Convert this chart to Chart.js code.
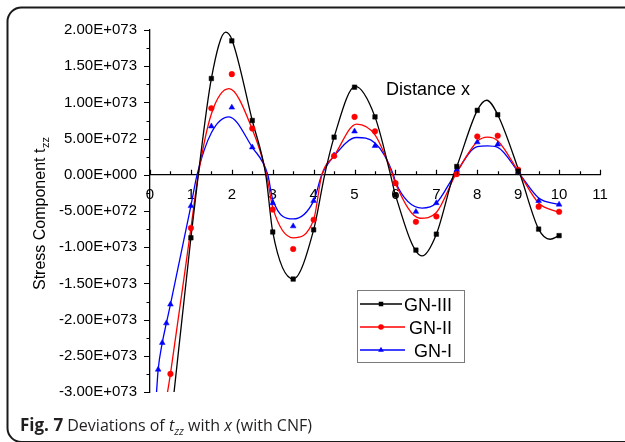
<!DOCTYPE html>
<html><head><meta charset="utf-8">
<script src="https://cdn.jsdelivr.net/npm/chart.js@4.4.0/dist/chart.umd.min.js"></script>
<style>html,body{margin:0;padding:0;background:#fff;}canvas{display:block;}</style>
</head><body>
<canvas id="c" width="625" height="442"></canvas>
<script>
// ---- data ----
const seriesNames = ['GN-III', 'GN-II', 'GN-I'];

// measured points (markers)
const gn3X = [1, 1.5, 2, 2.5, 3, 3.5, 4, 4.5, 5, 5.5, 6, 6.5, 7, 7.5, 8, 8.5, 9, 9.5, 10];
const gn3Y = [-0.87e73, 1.33e73, 1.85e73, 0.75e73, -0.79e73, -1.44e73, -0.76e73, 0.52e73, 1.21e73, 0.80e73, -0.28e73, -1.04e73, -0.82e73, 0.115e73, 0.89e73, 0.83e73, 0.05e73, -0.75e73, -0.84e73];

const gn2X = [0.5, 1, 1.5, 2, 2.5, 3, 3.5, 4, 4.5, 5, 5.5, 6, 6.5, 7, 7.5, 8, 8.5, 9, 9.5, 10];
const gn2Y = [-2.75e73, -0.735e73, 0.92e73, 1.39e73, 0.64e73, -0.48e73, -1.025e73, -0.62e73, 0.26e73, 0.80e73, 0.60e73, -0.115e73, -0.65e73, -0.575e73, 0.01e73, 0.53e73, 0.54e73, 0.07e73, -0.44e73, -0.51e73];

const gn1X = [0.2, 0.3, 0.4, 0.5, 1, 1.5, 2, 2.5, 3, 3.5, 4, 4.5, 5, 5.5, 6, 6.5, 7, 7.5, 8, 8.5, 9, 9.5, 10];
const gn1Y = [-2.69e73, -2.32e73, -2.05e73, -1.79e73, -0.43e73, 0.67e73, 0.93e73, 0.38e73, -0.39e73, -0.71e73, -0.36e73, 0.27e73, 0.60e73, 0.40e73, -0.12e73, -0.51e73, -0.39e73, 0.07e73, 0.45e73, 0.42e73, 0.04e73, -0.36e73, -0.41e73];

// fitted smooth curves
const gn3FitX = [0.55, 1.0, 1.18, 1.5, 1.85, 2.0, 2.5, 2.83, 3.0, 3.5, 4.0, 4.27, 4.5, 5.02, 5.5, 5.88, 6.0, 6.65, 7.0, 7.42, 7.5, 8.0, 8.23, 8.5, 9.05, 9.5, 9.78, 10.0];
const gn3FitY = [-3.2e73, -0.87e73, 0, 1.33e73, 1.97e73, 1.87e73, 0.75e73, 0, -0.79e73, -1.44e73, -0.76e73, 0, 0.52e73, 1.22e73, 0.80e73, 0, -0.28e73, -1.12e73, -0.82e73, 0, 0.115e73, 0.89e73, 1.03e73, 0.83e73, 0, -0.75e73, -0.89e73, -0.84e73];

const gn2FitX = [0.4, 0.5, 1.0, 1.18, 1.5, 1.93, 2.5, 2.85, 3.0, 3.5, 4.0, 4.2, 4.5, 5.05, 5.5, 5.93, 6.0, 6.6, 7.0, 7.47, 8.0, 8.25, 8.5, 9.05, 9.5, 10.0];
const gn2FitY = [-3.1e73, -2.75e73, -0.735e73, 0, 0.84e73, 1.19e73, 0.63e73, 0, -0.45e73, -0.87e73, -0.62e73, 0, 0.26e73, 0.70e73, 0.55e73, 0, -0.12e73, -0.60e73, -0.52e73, 0, 0.46e73, 0.52e73, 0.47e73, 0, -0.39e73, -0.52e73];

const gn1FitX = [0.16, 0.2, 0.3, 0.4, 0.5, 1.0, 1.15, 1.5, 1.93, 2.5, 2.88, 3.0, 3.5, 4.0, 4.2, 4.5, 5.05, 5.5, 5.95, 6.0, 6.65, 7.0, 7.45, 8.0, 8.25, 8.5, 9.05, 9.5, 10.0];
const gn1FitY = [-3.0e73, -2.69e73, -2.32e73, -2.05e73, -1.79e73, -0.43e73, 0, 0.58e73, 0.80e73, 0.38e73, 0, -0.34e73, -0.61e73, -0.36e73, 0, 0.26e73, 0.515e73, 0.44e73, 0, -0.10e73, -0.46e73, -0.39e73, 0, 0.39e73, 0.40e73, 0.38e73, 0, -0.32e73, -0.41e73];

// axis ticks
const xTickValues = [0, 1, 2, 3, 4, 5, 6, 7, 8, 9, 10, 11];
const yTickValues = [2e73, 1.5e73, 1e73, 5e72, 0, -5e72, -1e73, -1.5e73, -2e73, -2.5e73, -3e73];
const yTickLabels = ['2.00E+073', '1.50E+073', '1.00E+073', '5.00E+072', '0.00E+000', '-5.00E+072', '-1.00E+073', '-1.50E+073', '-2.00E+073', '-2.50E+073', '-3.00E+073'];

// ---- styling ----
const colors = ['#000000', '#ff0000', '#0000ff'];
const markerStyles = ['rect', 'circle', 'triangle'];
const markerRadius = [3.2, 2.8, 3.3];
const AX_FONT = "'Liberation Sans', Arial, sans-serif";

const pts = (xs, ys) => xs.map((x, i) => ({x: x, y: ys[i]}));
const markerData = [pts(gn3X, gn3Y), pts(gn2X, gn2Y), pts(gn1X, gn1Y)];
const fitData = [pts(gn3FitX, gn3FitY), pts(gn2FitX, gn2FitY), pts(gn1FitX, gn1FitY)];

const datasets = [];
for (let i = 0; i < 3; i++) {
  datasets.push({
    label: seriesNames[i] + ' data', data: markerData[i], showLine: false,
    pointStyle: markerStyles[i], pointRadius: markerRadius[i],
    backgroundColor: colors[i], borderColor: colors[i], borderWidth: 0.5
  });
}
for (let i = 0; i < 3; i++) {
  datasets.push({
    label: seriesNames[i], data: fitData[i], showLine: true, pointRadius: 0,
    borderColor: colors[i], borderWidth: 1.3, cubicInterpolationMode: 'monotone', fill: false
  });
}

function drawMarker(ctx, style, x, y, r, color) {
  ctx.fillStyle = color;
  ctx.beginPath();
  if (style === 'rect') {
    const s = r * Math.SQRT1_2;
    ctx.rect(x - s, y - s, 2 * s, 2 * s);
  } else if (style === 'circle') {
    ctx.arc(x, y, r, 0, Math.PI * 2);
  } else {
    const w = r * Math.sqrt(3);
    ctx.moveTo(x, y - r);
    ctx.lineTo(x + w / 2, y + r / 2);
    ctx.lineTo(x - w / 2, y + r / 2);
    ctx.closePath();
  }
  ctx.fill();
}

const decor = {
  id: 'decor',
  afterDraw(chart) {
    const ctx = chart.ctx;
    const xs = chart.scales.x, ys = chart.scales.y;
    ctx.save();
    // frame
    ctx.strokeStyle = '#1a1a1a';
    ctx.lineWidth = 2;
    const fx = 7.5, fy = 7.5, fw = 700, fh = 434.5, rr = 14;
    ctx.beginPath();
    ctx.moveTo(fx + fw, fy);
    ctx.lineTo(fx + rr, fy);
    ctx.arcTo(fx, fy, fx, fy + rr, rr);
    ctx.lineTo(fx, fy + fh - rr);
    ctx.arcTo(fx, fy + fh, fx + rr, fy + fh, rr);
    ctx.lineTo(fx + fw, fy + fh);
    ctx.stroke();

    // ticks
    ctx.strokeStyle = '#000';
    ctx.lineWidth = 1.2;
    const xAxisY = ys.getPixelForValue(0);
    ctx.beginPath();
    for (let v = 0; v <= 11; v += 0.5) {
      const px = Math.round(xs.getPixelForValue(v)) + 0.5;
      const major = Math.abs(v - Math.round(v)) < 1e-9;
      const len = major ? 5 : 3.5;
      ctx.moveTo(px, xAxisY - len);
      ctx.lineTo(px, xAxisY);
    }
    const yAxisX = xs.getPixelForValue(0);
    for (let k = 0; k <= 20; k++) {
      const v = 2e73 - k * 0.25e73;
      const py = Math.round(ys.getPixelForValue(v)) + 0.5;
      const len = (k % 2 === 0) ? 6 : 3.5;
      ctx.moveTo(yAxisX - len, py);
      ctx.lineTo(yAxisX, py);
    }
    ctx.stroke();

    // y-axis title with subscript
    ctx.fillStyle = '#000';
    ctx.save();
    ctx.translate(45, 290);
    ctx.rotate(-Math.PI / 2);
    ctx.textBaseline = 'alphabetic';
    ctx.textAlign = 'left';
    ctx.font = "16px " + AX_FONT;
    const t1 = 'Stress Component t';
    ctx.fillText(t1, 0, 0);
    const w1 = ctx.measureText(t1).width;
    ctx.font = "11px " + AX_FONT;
    ctx.fillText('zz', w1 + 0.5, 4);
    ctx.restore();

    // x-axis title
    ctx.font = "18px " + AX_FONT;
    ctx.textAlign = 'center';
    ctx.textBaseline = 'alphabetic';
    ctx.fillText('Distance x', 428, 95);

    // legend
    ctx.strokeStyle = '#7a7a7a';
    ctx.lineWidth = 1;
    ctx.strokeRect(357.5, 290.5, 107, 72);
    const rowsY = [304, 327, 350];
    ctx.font = "18px " + AX_FONT;
    ctx.textAlign = 'right';
    for (let i = 0; i < 3; i++) {
      ctx.strokeStyle = colors[i];
      ctx.lineWidth = 1.3;
      ctx.beginPath();
      ctx.moveTo(360, rowsY[i]);
      ctx.lineTo(i === 0 ? 402 : 405, rowsY[i]);
      ctx.stroke();
      drawMarker(ctx, markerStyles[i], 381, rowsY[i], markerRadius[i], colors[i]);
      ctx.fillStyle = '#000';
      ctx.fillText(seriesNames[i], 452, rowsY[i] + 6.5);
    }

    // caption
    const CAP = "'Open Sans', 'Noto Sans', sans-serif";
    ctx.textAlign = 'left';
    ctx.fillStyle = '#231f20';
    let cx = 20;
    const by = 431;
    const part = (txt, font, dy) => {
      ctx.font = font;
      ctx.fillText(txt, cx, by + (dy || 0));
      cx += ctx.measureText(txt).width;
    };
    part('Fig. 7', "bold 17px " + CAP);
    part(' Deviations of ', "16px " + CAP);
    part('t', "italic 16px " + CAP);
    part('zz', "italic 11px " + CAP, 4);
    part(' with ', "16px " + CAP);
    part('x', "italic 16px " + CAP);
    part(' (with CNF)', "16px " + CAP);
    ctx.restore();
  }
};

new Chart(document.getElementById('c'), {
  type: 'scatter',
  data: { datasets: datasets },
  options: {
    responsive: false,
    animation: false,
    events: [],
    layout: { padding: { left: 0, right: 25, top: 30, bottom: 50 } },
    plugins: { legend: { display: false }, tooltip: { enabled: false } },
    scales: {
      x: {
        type: 'linear', min: 0, max: 11,
        position: { y: 0 },
        afterBuildTicks: (s) => { s.ticks = xTickValues.map(v => ({value: v})); },
        ticks: { autoSkip: false, maxRotation: 0, color: '#000', padding: 11,
                 font: { family: AX_FONT, size: 15 } },
        grid: { display: false, drawTicks: false },
        border: { display: true, color: '#000', width: 1.3 }
      },
      y: {
        type: 'linear', min: -3e73, max: 2e73,
        afterBuildTicks: (s) => { s.ticks = yTickValues.map(v => ({value: v})); },
        afterFit: (s) => { s.width = 150; },
        ticks: { autoSkip: false, color: '#000', padding: 13,
                 font: { family: AX_FONT, size: 15 },
                 callback: (v) => yTickLabels[yTickValues.indexOf(v)] },
        grid: { display: false, drawTicks: false },
        border: { display: true, color: '#000', width: 1.3 }
      }
    }
  },
  plugins: [decor]
});
</script>
</body></html>
